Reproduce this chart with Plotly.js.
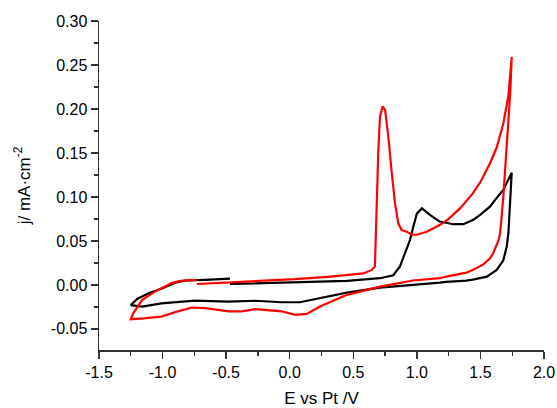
<!DOCTYPE html>
<html>
<head>
<meta charset="utf-8">
<script src="https://cdn.plot.ly/plotly-3.0.1.min.js"></script>
<style>html,body{margin:0;padding:0;background:#fff;}#chart{width:557px;height:408px;}</style>
</head>
<body>
<div id="chart"></div>
<script>
// Black CV trace (scan order)
const blackE = [-0.47, -0.2, 0.04, 0.45, 0.71, 0.815, 0.867, 0.907, 0.946, 0.972, 1.0, 1.04, 1.103, 1.18, 1.287, 1.366, 1.444, 1.5, 1.575, 1.628, 1.68, 1.746,
  1.738, 1.727, 1.72, 1.707, 1.68, 1.628, 1.55, 1.44, 1.39, 1.23, 1.18, 0.97, 0.71, 0.45, 0.238, 0.08, -0.063, -0.27, -0.485, -0.745, -1.01, -1.16, -1.25,
  -1.2, -1.11, -1.0, -0.9, -0.82, -0.665, -0.47];
const blackJ = [0.001, 0.002, 0.0026, 0.0045, 0.0076, 0.011, 0.021, 0.036, 0.051, 0.066, 0.081, 0.087, 0.0795, 0.072, 0.069, 0.069, 0.074, 0.080, 0.089, 0.099, 0.108, 0.1275,
  0.104, 0.081, 0.059, 0.0435, 0.028, 0.017, 0.0094, 0.006, 0.0049, 0.0035, 0.0026, 0.0, -0.003, -0.0087, -0.015, -0.0197, -0.0197, -0.018, -0.019, -0.0178, -0.021, -0.0246, -0.023,
  -0.016, -0.0094, -0.0038, 0.0026, 0.005, 0.0057, 0.0072];

// Red CV trace (scan order)
const redE = [-0.73, -0.4, 0.04, 0.32, 0.58, 0.645, 0.67, 0.676, 0.685, 0.697, 0.71, 0.731, 0.75, 0.776, 0.80, 0.828, 0.854, 0.88, 0.92, 0.96, 1.0, 1.077, 1.18, 1.25, 1.34, 1.44, 1.5, 1.575, 1.63, 1.68, 1.72, 1.746,
  1.735, 1.72, 1.705, 1.69, 1.68, 1.665, 1.654, 1.64, 1.60, 1.575, 1.52, 1.44, 1.39, 1.23, 1.18, 0.97, 0.71, 0.45, 0.238, 0.134, 0.08, 0.043, -0.063, -0.195, -0.27, -0.378, -0.48, -0.665, -0.77, -0.9, -1.01, -1.15, -1.25,
  -1.23, -1.16, -1.06, -0.93, -0.86, -0.73];
const redJ = [0.001, 0.003, 0.0065, 0.0095, 0.013, 0.017, 0.021, 0.05, 0.1, 0.153, 0.191, 0.203, 0.199, 0.168, 0.131, 0.093, 0.070, 0.0624, 0.0605, 0.057, 0.057, 0.0605, 0.068, 0.075, 0.087, 0.104, 0.117, 0.138, 0.157, 0.1835, 0.215, 0.259,
  0.22, 0.185, 0.145, 0.115, 0.10, 0.075, 0.058, 0.05, 0.036, 0.030, 0.023, 0.017, 0.014, 0.0095, 0.0076, 0.005, -0.002, -0.0113, -0.0246, -0.033, -0.034, -0.034, -0.030, -0.028, -0.0276, -0.030, -0.030, -0.0265, -0.0257, -0.031, -0.036, -0.038, -0.039,
  -0.032, -0.017, -0.0076, 0.002, 0.0045, 0.0057];

const xTicks = [-1.5, -1.0, -0.5, 0.0, 0.5, 1.0, 1.5, 2.0];
const yTicks = [-0.05, 0.00, 0.05, 0.10, 0.15, 0.20, 0.25, 0.30];

const tickFont = {family: '"Liberation Sans", Arial, sans-serif', size: 16, color: '#000'};
const titleFont = {family: '"Liberation Sans", Arial, sans-serif', size: 17, color: '#000'};

const traces = [
  {x: blackE, y: blackJ, mode: 'lines', line: {color: '#000000', width: 2.2}, showlegend: false, hoverinfo: 'skip'},
  {x: redE, y: redJ, mode: 'lines', line: {color: '#ff0000', width: 2.2}, showlegend: false, hoverinfo: 'skip'}
];

const layout = {
  width: 557, height: 408,
  margin: {l: 99, r: 13, t: 21, b: 58},
  paper_bgcolor: '#fff', plot_bgcolor: '#fff',
  font: tickFont,
  showlegend: false,
  xaxis: {
    range: [-1.5, 2.0],
    tickvals: xTicks, ticktext: xTicks.map(v => v.toFixed(1)),
    ticks: 'outside', ticklen: 7, tickwidth: 1.3, tickcolor: '#333',
    minor: {dtick: 0.25, ticks: 'outside', ticklen: 4, tickwidth: 1.3, tickcolor: '#333', showgrid: false},
    showline: true, linecolor: '#333', linewidth: 1.5,
    showgrid: false, zeroline: false,
    title: {text: 'E vs Pt /V', font: titleFont, standoff: 12},
    tickfont: tickFont
  },
  yaxis: {
    range: [-0.074, 0.30],
    tickvals: yTicks, ticktext: yTicks.map(v => v.toFixed(2)),
    ticks: 'outside', ticklen: 7, tickwidth: 1.3, tickcolor: '#333',
    minor: {dtick: 0.025, tick0: 0, ticks: 'outside', ticklen: 4, tickwidth: 1.3, tickcolor: '#333', showgrid: false},
    showline: true, linecolor: '#333', linewidth: 1.5,
    showgrid: false, zeroline: false,
    title: {text: 'j/ mA·cm<sup>-2</sup>', font: titleFont, standoff: 16},
    tickfont: tickFont
  }
};

Plotly.newPlot('chart', traces, layout, {staticPlot: true, displayModeBar: false});
</script>
</body>
</html>
